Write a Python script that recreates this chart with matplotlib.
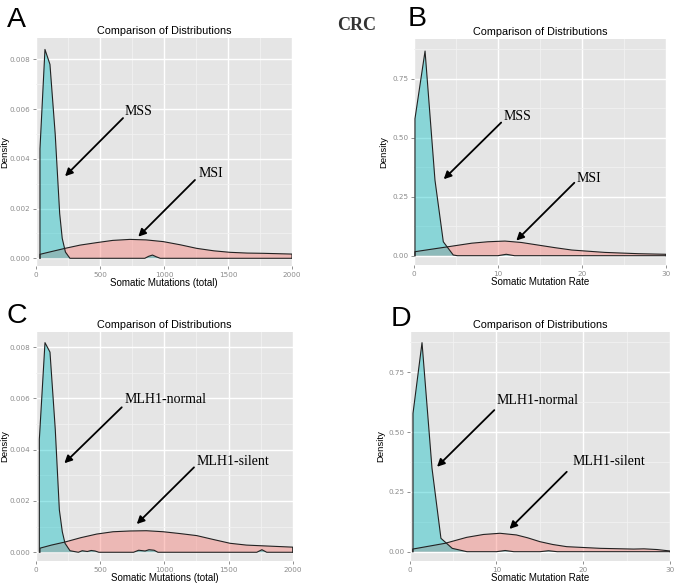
import matplotlib
matplotlib.use("Agg")
import matplotlib.pyplot as plt
from matplotlib.ticker import FixedLocator

# ---------------- data ----------------
A_mss_x = [31, 70, 109, 150, 185, 205, 230, 265, 850, 880, 910, 940, 970, 2000]
A_mss_y = [0.0044, 0.0084, 0.0078, 0.0050, 0.0018, 0.0008, 0.00025, 0.0, 0.0, 0.00008, 0.00013, 0.00006, 0.0, 0.0]
A_msi_x = [31, 120, 227, 344, 474, 600, 734, 860, 995, 1130, 1255, 1390, 1516, 1650, 1776, 2000]
A_msi_y = [0.00016, 0.00027, 0.0004, 0.00053, 0.00063, 0.00072, 0.00076, 0.00074, 0.00067,
           0.00054, 0.0004, 0.0003, 0.00024, 0.00021, 0.0002, 0.00017]

B_mss_x = [0.15, 1.35, 2.53, 3.52, 4.7, 5.2, 10.0, 11.0, 12.0, 30]
B_mss_y = [0.58, 0.867, 0.32, 0.059, 0.003, 0.0, 0.0, 0.006, 0.0, 0.0]
B_msi_x = [0.15, 4.1, 6.9, 8.8, 10.85, 12.8, 14.8, 16.8, 18.8, 22.7, 26.7, 30]
B_msi_y = [0.017, 0.038, 0.053, 0.059, 0.062, 0.056, 0.045, 0.034, 0.024, 0.014, 0.0085, 0.006]

C_mss_x = [26, 70, 109, 150, 182, 205, 226, 265, 330, 360, 400, 430, 460, 490,
           760, 800, 850, 880, 920, 950, 1720, 1760, 1798, 2000]
C_mss_y = [0.0044, 0.00817, 0.0078, 0.0048, 0.00165, 0.0008, 0.00035, 0.00006, 0.0, 0.00006,
           0.00003, 0.00007, 0.00005, 0.0, 0.0, 0.00008, 0.00005, 0.0001, 0.00008, 0.0,
           0.0, 0.0001, 0.0, 0.0]
C_msi_x = [31, 120, 226, 350, 473, 600, 733, 860, 992, 1120, 1252, 1380, 1512, 1640, 1772, 2000]
C_msi_y = [0.00016, 0.00028, 0.0004, 0.00057, 0.00071, 0.0008, 0.00083, 0.00084, 0.0008,
           0.00073, 0.00065, 0.0005, 0.00035, 0.00028, 0.00025, 0.0002]

D_mss_x = [0.38, 1.42, 2.57, 3.6, 4.9, 6.6, 10.0, 11.0, 12.0, 15.0, 16.0, 17.0, 30]
D_mss_y = [0.578, 0.874, 0.349, 0.056, 0.014, 0.0, 0.0, 0.005, 0.0, 0.0, 0.004, 0.0, 0.0]
D_msi_x = [0.35, 4.07, 6.57, 8.5, 10.4, 12.3, 13.6, 15.0, 16.5, 18.1, 22, 25.8, 27, 28.5, 30]
D_msi_y = [0.011, 0.035, 0.06, 0.072, 0.077, 0.07, 0.058, 0.042, 0.03, 0.021, 0.014, 0.011,
           0.012, 0.009, 0.003]

title = "Comparison of Distributions"
xlabels = ["Somatic Mutations (total)", "Somatic Mutation Rate",
           "Somatic Mutations (total)", "Somatic Mutation Rate"]
ylabel = "Density"
letters = ["A", "B", "C", "D"]
labels_top = ["MSS", "MSI"]
labels_bot = ["MLH1-normal", "MLH1-silent"]

CYAN = "#00BFC4"
PINK = "#F8766D"

fig = plt.figure(figsize=(6.77, 5.87), dpi=100)
W, H = 677.0, 587.0

def axes_px(l, t, r, b):
    return fig.add_axes([l / W, 1 - b / H, (r - l) / W, (b - t) / H])

axA = axes_px(36, 38, 292, 266)
axB = axes_px(413.7, 39, 666, 265)
axC = axes_px(36, 332, 292.7, 561)
axD = axes_px(409.7, 332, 670, 561)

def style(ax, xlim, ylim, xt, yt, yfmt, xminor, yminor, xlabel, ylab_x):
    ax.set_facecolor("#E5E5E5")
    ax.set_xlim(*xlim)
    ax.set_ylim(*ylim)
    ax.xaxis.set_major_locator(FixedLocator(xt))
    ax.yaxis.set_major_locator(FixedLocator(yt))
    ax.xaxis.set_minor_locator(FixedLocator(xminor))
    ax.yaxis.set_minor_locator(FixedLocator(yminor))
    ax.set_yticklabels([yfmt.format(v) for v in yt])
    ax.set_xticklabels([str(v) for v in xt])
    ax.grid(True, which="major", color="white", lw=1.0)
    ax.grid(True, which="minor", color="#F2F2F2", lw=0.6)
    ax.set_axisbelow(True)
    for s in ax.spines.values():
        s.set_visible(False)
    ax.tick_params(which="major", length=2.5, color="#7F7F7F", width=0.6,
                   labelsize=5.2, labelcolor="#8C8C8C", pad=1.5)
    ax.tick_params(which="minor", length=0)
    ax.set_title(title, fontsize=7.8, family="Liberation Sans", pad=3)
    ax.set_xlabel(xlabel, fontsize=7, family="Liberation Sans", labelpad=0)
    pos = ax.get_position()
    fig.text(ylab_x / W, pos.y0 + pos.height / 2, ylabel, rotation=90,
             fontsize=6.8, family="Liberation Sans", ha="center", va="center")

def dens(ax, x, y, color):
    xs = [x[0]] + list(x) + [x[-1]]
    ys = [0.0] + list(y) + [0.0]
    ax.fill(xs, ys, facecolor=color, alpha=0.4, edgecolor="none", zorder=2)
    ax.plot(xs, ys, color="#222222", lw=0.8, zorder=3)

def arrow(ax, text, txy, tail, head):
    ax.text(txy[0], txy[1], text, family="Liberation Serif", fontsize=10,
            va="center", ha="left", zorder=5)
    ax.annotate("", xy=head, xytext=tail,
                arrowprops=dict(arrowstyle="-|>", color="black", lw=1.3,
                                mutation_scale=11, shrinkA=0, shrinkB=0), zorder=5)

# A
style(axA, (0, 2000), (-0.00031, 0.00886), [0, 500, 1000, 1500, 2000],
      [0, 0.002, 0.004, 0.006, 0.008], "{:.3f}",
      [250, 750, 1250, 1750], [0.001, 0.003, 0.005, 0.007], xlabels[0], 5)
dens(axA, A_msi_x, A_msi_y, PINK)
dens(axA, A_mss_x, A_mss_y, CYAN)
arrow(axA, labels_top[0], (690, 0.00590), (680, 0.00564), (227, 0.0033))
arrow(axA, labels_top[1], (1268, 0.00343), (1242, 0.00315), (799, 0.00087))

# B
style(axB, (0, 30), (-0.0394, 0.918), [0, 10, 20, 30],
      [0, 0.25, 0.5, 0.75], "{:.2f}",
      [5, 15, 25], [0.125, 0.375, 0.625, 0.875], xlabels[1], 384)
dens(axB, B_msi_x, B_msi_y, PINK)
dens(axB, B_mss_x, B_mss_y, CYAN)
arrow(axB, labels_top[0], (10.7, 0.589), (10.4, 0.564), (3.57, 0.324))
arrow(axB, labels_top[1], (19.4, 0.328), (19.1, 0.309), (12.2, 0.064))

# C
style(axC, (0, 2000), (-0.00034, 0.008585), [0, 500, 1000, 1500, 2000],
      [0, 0.002, 0.004, 0.006, 0.008], "{:.3f}",
      [250, 750, 1250, 1750], [0.001, 0.003, 0.005, 0.007], xlabels[2], 5)
dens(axC, C_msi_x, C_msi_y, PINK)
dens(axC, C_mss_x, C_mss_y, CYAN)
arrow(axC, labels_bot[0], (690, 0.00594), (668, 0.00565), (221, 0.00347))
arrow(axC, labels_bot[1], (1252, 0.00353), (1231, 0.00331), (785, 0.0011))

# D
style(axD, (0, 30), (-0.0389, 0.9185), [0, 10, 20, 30],
      [0, 0.25, 0.5, 0.75], "{:.2f}",
      [5, 15, 25], [0.125, 0.375, 0.625, 0.875], xlabels[3], 381)
dens(axD, D_msi_x, D_msi_y, PINK)
dens(axD, D_mss_x, D_mss_y, CYAN)
arrow(axD, labels_bot[0], (10.06, 0.634), (9.75, 0.592), (3.15, 0.355))
arrow(axD, labels_bot[1], (18.8, 0.376), (18.1, 0.334), (11.5, 0.095))

# panel letters and CRC
for (lx, ly), let in zip([(7, 27), (408, 26), (7, 323), (391, 326)], letters):
    fig.text(lx / W, 1 - ly / H, let, fontsize=20.5, family="Liberation Sans",
             ha="left", va="baseline")
fig.text(357 / W, 1 - 25 / H, "CRC", fontsize=13, family="Liberation Serif",
         weight="bold", color="#333333", ha="center", va="center")

fig.savefig("out.png", dpi=100)
